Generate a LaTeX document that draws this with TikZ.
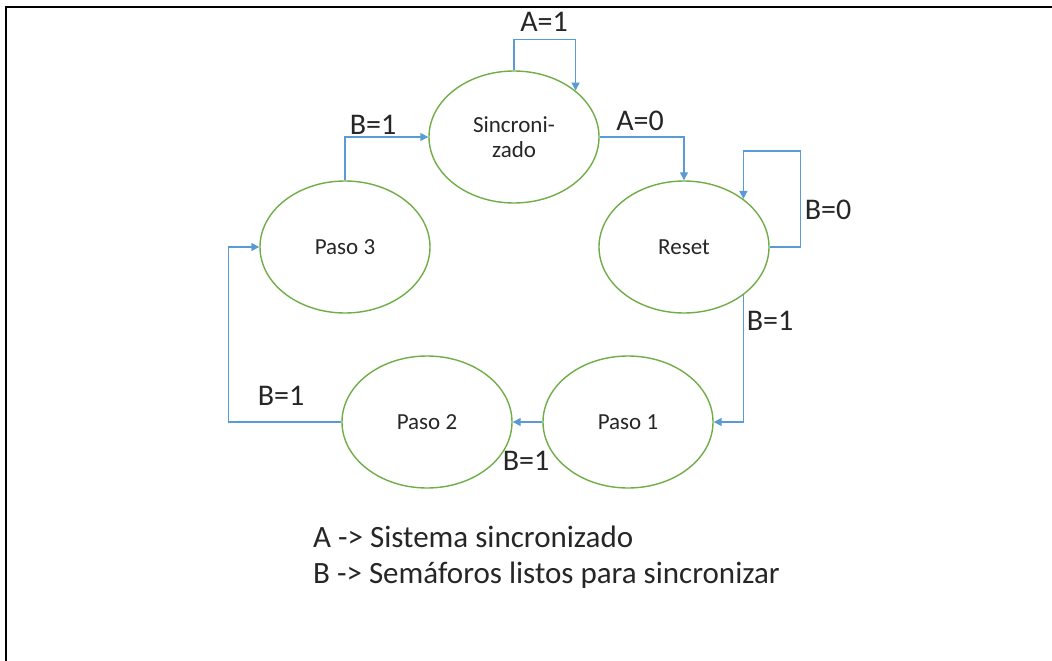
\documentclass[tikz,border=0pt]{standalone}
\usepackage{fontspec}
\setmainfont{Carlito}
\usetikzlibrary{shapes.geometric,arrows.meta}

\definecolor{estverde}{RGB}{112,173,71}
\definecolor{flechaazul}{RGB}{91,155,213}
\definecolor{textogris}{RGB}{38,38,38}

\tikzset{
	estado/.style={draw=estverde, line width=1.4pt, ellipse, minimum width=170pt,
		minimum height=132pt, inner sep=0pt, align=center, text=textogris,
		font=\fontsize{23}{25}\selectfont},
	trans/.style={draw=flechaazul, line width=1.4pt, -{Triangle[length=8pt,width=8pt]}},
	etiq/.style={text=textogris, inner sep=0pt, font=\fontsize{30}{32}\selectfont},
	leyenda/.style={anchor=west, text=textogris, inner sep=0pt, font=\fontsize{31}{33}\selectfont}
}

\begin{document}
\begin{tikzpicture}[x=1pt,y=-1pt]
		\useasboundingbox (0,0) rectangle (1052,661);
		
		% Marco
		\draw[line width=2.6pt] (6,661) -- (6,7) -- (175,7);
		\draw[line width=1.3pt] (175,7) -- (893,7);
		\draw[line width=2.6pt] (893,7) -- (1052,7);
		
		% Estados
		\node[estado] (sinc) at (514,137) {Sincroni-\\zado};
		\node[estado] (reset) at (684,247) {Reset};
		\node[estado] (paso3) at (345,247) {Paso 3};
		\node[estado] (paso2) at (427,422) {Paso 2};
		\node[estado] (paso1) at (628,422) {Paso 1};
		
		% Transiciones
		\draw[trans] (sinc.north) -- ++(0,-31) -| (sinc.37);
		\draw[trans] (sinc.east) -| (reset.north);
		\draw[trans] (reset.east) -- ++(31,0) -- ++(0,-96) -| (reset.39);
		\draw[trans] (reset.-39) |- (paso1.east);
		\draw[trans] (paso1.west) -- (paso2.east);
		\draw[trans] (paso2.west) -- ++(-113,0) |- (paso3.west);
		\draw[trans] (paso3.north) |- (sinc.west);
		
		% Etiquetas
		\node[etiq] (lA1) at (544,22) {A=1};
		\node[etiq] (lA0) at (640,121) {A=0};
		\node[etiq] (lB0) at (828,210) {B=0};
		\node[etiq] (lB1a) at (770,321) {B=1};
		\node[etiq] (lB1b) at (526,461) {B=1};
		\node[etiq] (lB1c) at (281,396) {B=1};
		\node[etiq] (lB1d) at (373,125) {B=1};
		
		% Leyenda
		\node[leyenda] (leyA) at (313,537) {A -{}> Sistema sincronizado};
		\node[leyenda] (leyB) at (313,575) {B -{}> Semáforos listos para sincronizar};
		
	\end{tikzpicture}
\end{document}
